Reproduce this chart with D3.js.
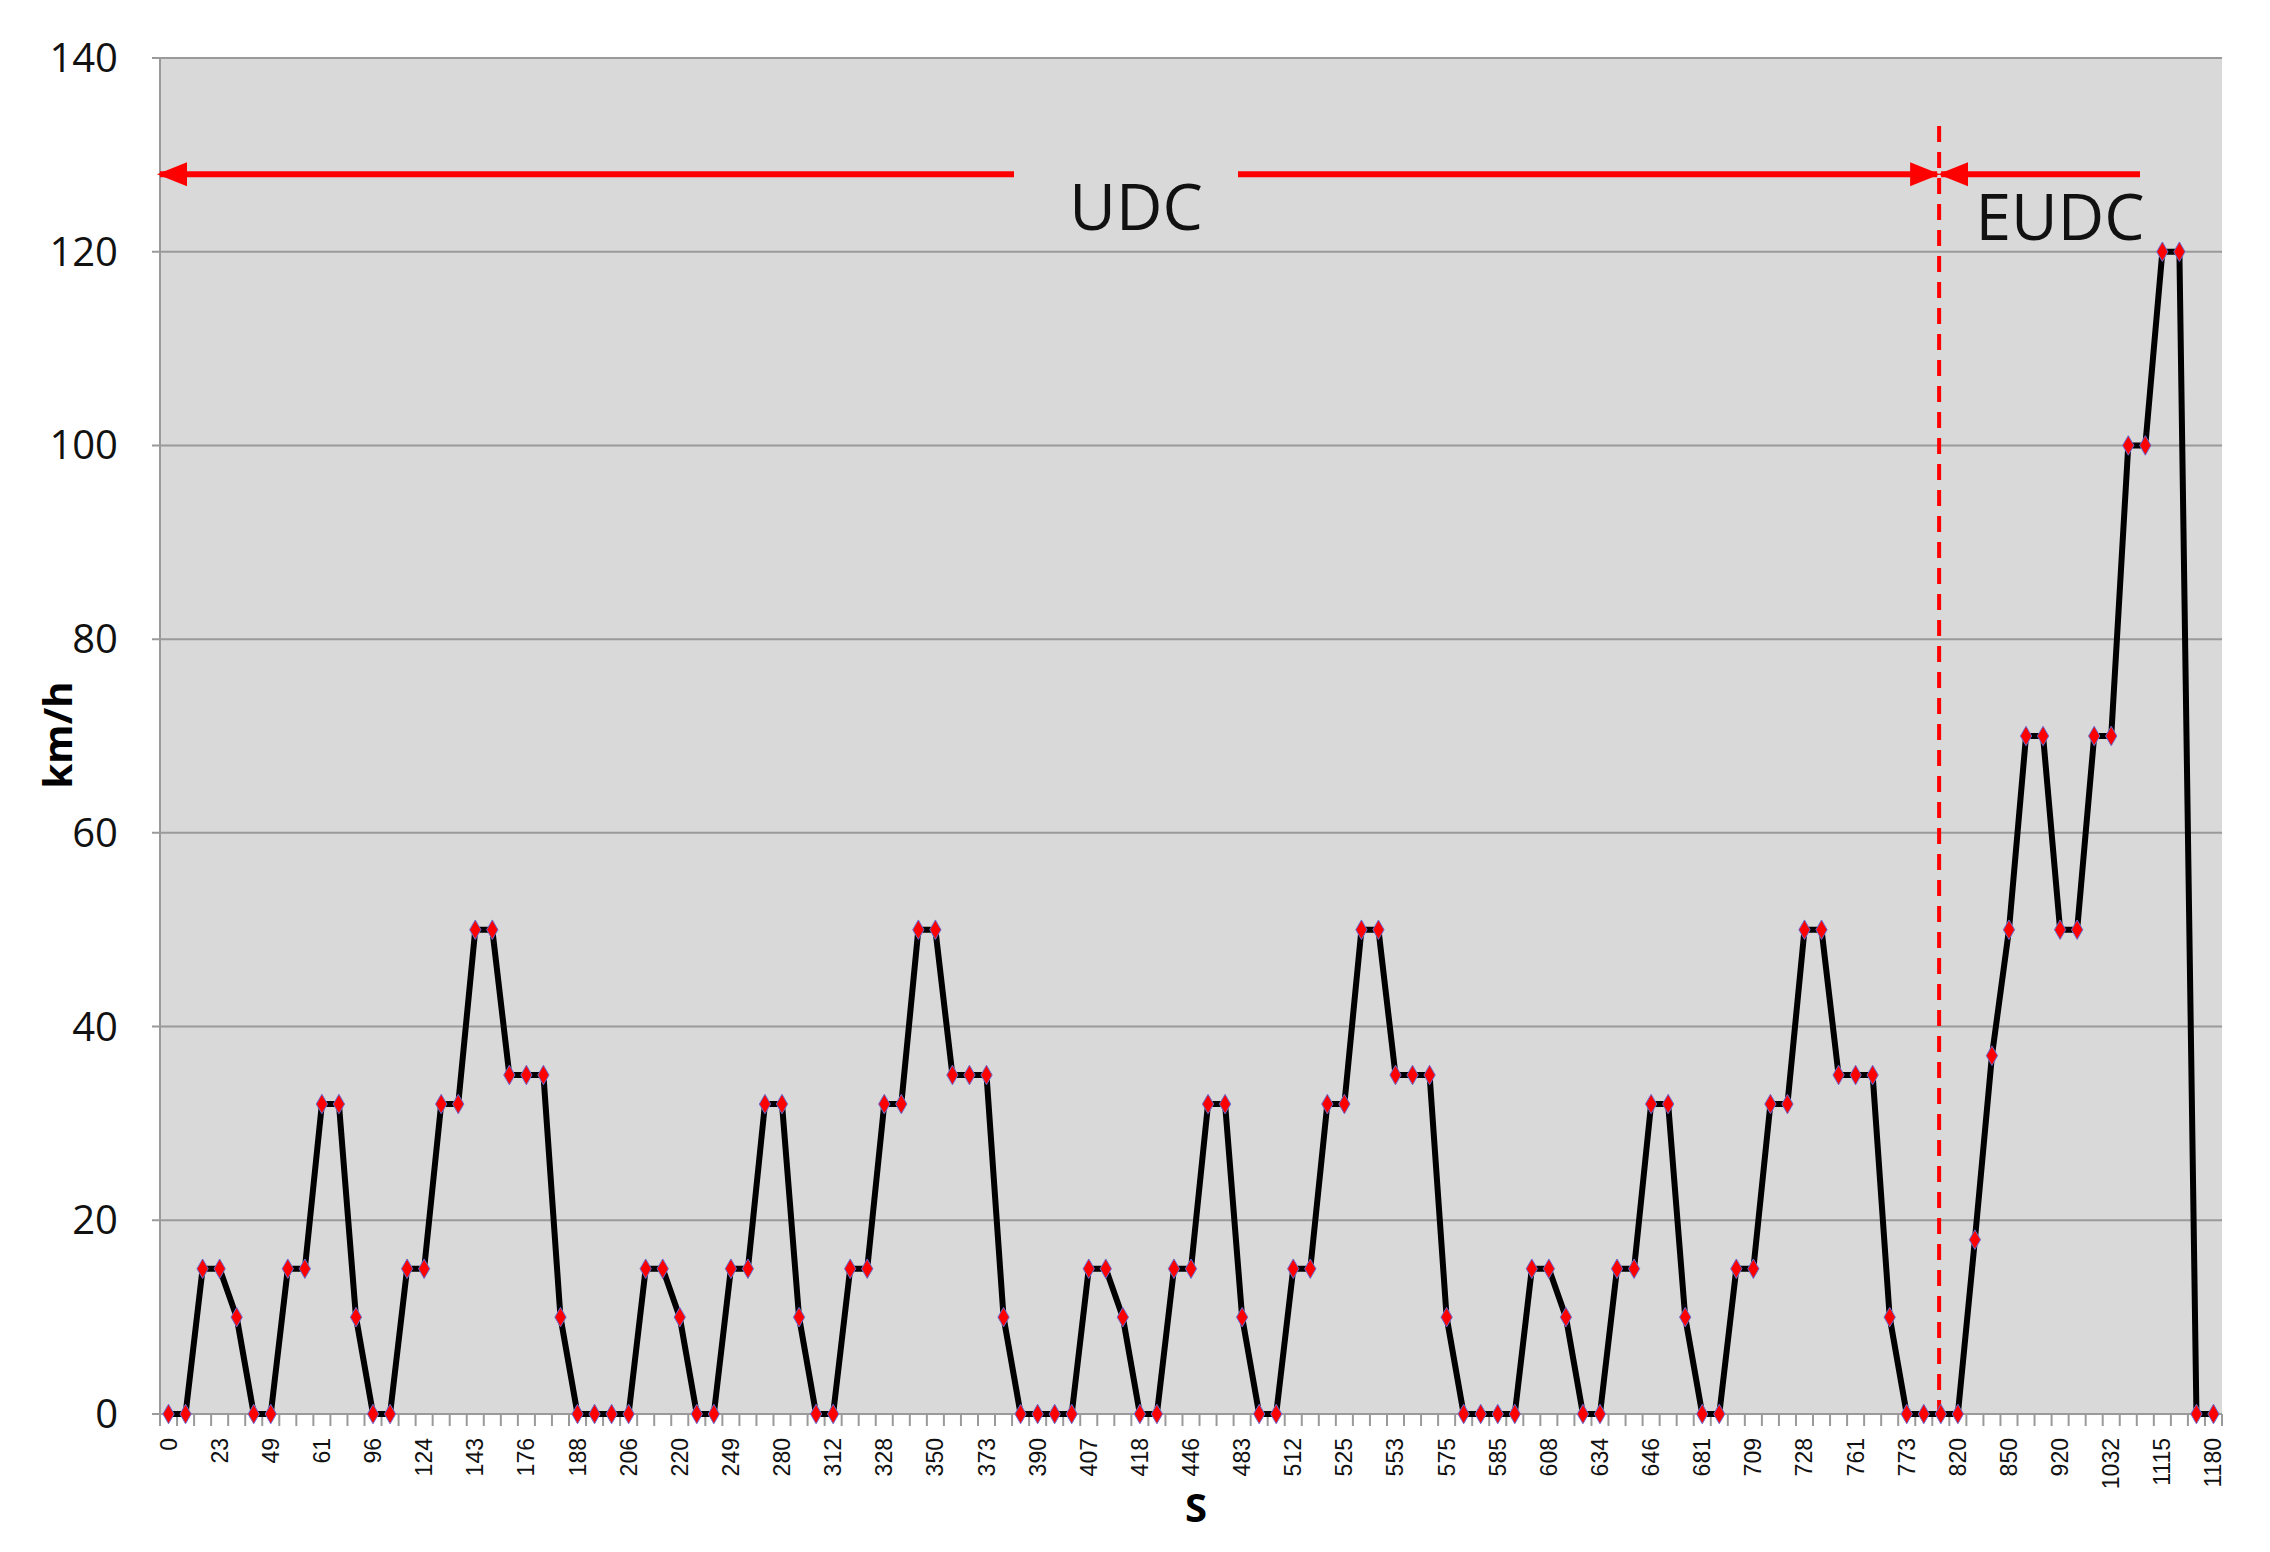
<!DOCTYPE html>
<html>
<head>
<meta charset="utf-8">
<script src="https://cdn.jsdelivr.net/npm/d3@7"></script>
<style>
  body { margin: 0; background: #fff; }
  svg text { font-family: "Open Sans", sans-serif; }
</style>
</head>
<body>
<div id="graph"></div>
<script>
// speed (km/h) at each sample, 121 samples
var speeds = [
  0, 0, 15, 15, 10, 0, 0, 15, 15, 32, 32, 10, 0, 0, 15, 15, 32, 32, 50, 50,
  35, 35, 35, 10, 0, 0, 0, 0, 15, 15, 10, 0, 0, 15, 15, 32, 32, 10, 0, 0,
  15, 15, 32, 32, 50, 50, 35, 35, 35, 10, 0, 0, 0, 0, 15, 15, 10, 0, 0, 15,
  15, 32, 32, 10, 0, 0, 15, 15, 32, 32, 50, 50, 35, 35, 35, 10, 0, 0, 0, 0,
  15, 15, 10, 0, 0, 15, 15, 32, 32, 10, 0, 0, 15, 15, 32, 32, 50, 50, 35, 35,
  35, 10, 0, 0, 0, 0, 18, 37, 50, 70, 70, 50, 50, 70, 70, 100, 100, 120, 120, 0,
  0
];
// labels shown on every third sample
var tickLabels = [0, 23, 49, 61, 96, 124, 143, 176, 188, 206, 220, 249, 280, 312, 328, 350,
  373, 390, 407, 418, 446, 483, 512, 525, 553, 575, 585, 608, 634, 646, 681, 709,
  728, 761, 773, 820, 850, 920, 1032, 1115, 1180];
var yTicks = [0, 20, 40, 60, 80, 100, 120, 140];

var chart_width = 2270;
var chart_height = 1552;
var plotLeft = 160, plotRight = 2222, plotTop = 58, plotBottom = 1414;

var svg = d3.select('#graph').append('svg')
  .attr('width', chart_width).attr('height', chart_height);

var idx = d3.range(speeds.length);
var x_scale = d3.scaleBand().domain(idx).range([plotLeft, plotRight]).padding(0);
var bw = x_scale.bandwidth();
var cx = function (i) { return x_scale(i) + bw / 2; };
var y_scale = d3.scaleLinear().domain([0, 140]).range([plotBottom, plotTop]);

// plot area
svg.append('rect').attr('x', plotLeft).attr('y', plotTop)
  .attr('width', plotRight - plotLeft).attr('height', plotBottom - plotTop).attr('fill', '#d9d9d9');

// gridlines + y labels
svg.selectAll('.grid').data(yTicks).enter().append('line')
  .attr('x1', plotLeft - 8).attr('x2', plotRight)
  .attr('y1', function (d) { return y_scale(d); })
  .attr('y2', function (d) { return y_scale(d); })
  .attr('stroke', '#9a9a9a').attr('stroke-width', 2);
svg.append('line').attr('x1', plotLeft).attr('x2', plotLeft).attr('y1', plotTop).attr('y2', plotBottom)
  .attr('stroke', '#9a9a9a').attr('stroke-width', 2);
svg.selectAll('.ylab').data(yTicks).enter().append('text')
  .attr('x', 118).attr('y', function (d) { return y_scale(d) + 14; })
  .attr('text-anchor', 'end').attr('font-size', 40).attr('fill', '#111')
  .text(function (d) { return d; });

// x tick marks between categories
svg.selectAll('.xtick').data(d3.range(speeds.length + 1)).enter().append('line')
  .attr('x1', function (d) { return plotLeft + d * bw; })
  .attr('x2', function (d) { return plotLeft + d * bw; })
  .attr('y1', plotBottom).attr('y2', plotBottom + 12)
  .attr('stroke', '#9a9a9a').attr('stroke-width', 2);

// x labels (every third)
svg.selectAll('.xlab').data(tickLabels).enter().append('text')
  .attr('transform', function (d, i) {
    return 'translate(' + (cx(i * 3) + 8) + ',' + (plotBottom + 24) + ') rotate(-90)';
  })
  .attr('text-anchor', 'end').attr('font-size', 23)
  .style('font-family', '"Liberation Sans", Arial, sans-serif').attr('fill', '#111')
  .text(function (d) { return d; });

// axis titles
svg.append('text').attr('x', 1196).attr('y', 1522).attr('text-anchor', 'middle')
  .attr('font-size', 40).attr('font-weight', 'bold').text('S');
svg.append('text').attr('transform', 'translate(72,735) rotate(-90)')
  .attr('text-anchor', 'middle').attr('font-size', 40).attr('font-weight', 'bold').text('km/h');

// arrows
var defs = svg.append('defs');
defs.append('marker').attr('id', 'ah').attr('viewBox', '0 0 10 10')
  .attr('refX', 9).attr('refY', 5).attr('markerWidth', 5).attr('markerHeight', 5)
  .attr('orient', 'auto-start-reverse').attr('markerUnits', 'strokeWidth')
  .append('path').attr('d', 'M0,1 L10,5 L0,9 Z').attr('fill', '#ff0000');

var divX = cx(104) - bw * 0.1;
var arrowY = y_scale(128);
function arrow(x1, x2, startHead, endHead) {
  var l = svg.append('line').attr('x1', x1).attr('x2', x2).attr('y1', arrowY).attr('y2', arrowY)
    .attr('stroke', '#ff0000').attr('stroke-width', 6);
  if (startHead) l.attr('marker-start', 'url(#ah)');
  if (endHead) l.attr('marker-end', 'url(#ah)');
}
arrow(plotLeft, 1014, true, false);
arrow(1238, divX - 2, false, true);
arrow(divX + 2, 2140, true, false);

svg.append('line').attr('x1', divX).attr('x2', divX).attr('y1', 126).attr('y2', plotBottom)
  .attr('stroke', '#ff0000').attr('stroke-width', 4).attr('stroke-dasharray', '16,10');

svg.append('text').attr('x', 1136).attr('y', 230).attr('text-anchor', 'middle')
  .attr('font-size', 64).attr('fill', '#111').text('UDC');
svg.append('text').attr('x', 2060).attr('y', 240).attr('text-anchor', 'middle')
  .attr('font-size', 64).attr('fill', '#111').text('EUDC');

// speed line
var line = d3.line().x(function (d, i) { return cx(i); }).y(function (d) { return y_scale(d); });
svg.append('path').datum(speeds).attr('d', line)
  .attr('fill', 'none').attr('stroke', '#000').attr('stroke-width', 6)
  .attr('stroke-linejoin', 'round');

// diamond markers
svg.selectAll('.pt').data(speeds).enter().append('path')
  .attr('d', d3.symbol().type(d3.symbolDiamond).size(110))
  .attr('transform', function (d, i) { return 'translate(' + cx(i) + ',' + y_scale(d) + ')'; })
  .attr('fill', '#ff0000').attr('stroke', '#6a6ad0').attr('stroke-width', 1);
</script>
</body>
</html>
